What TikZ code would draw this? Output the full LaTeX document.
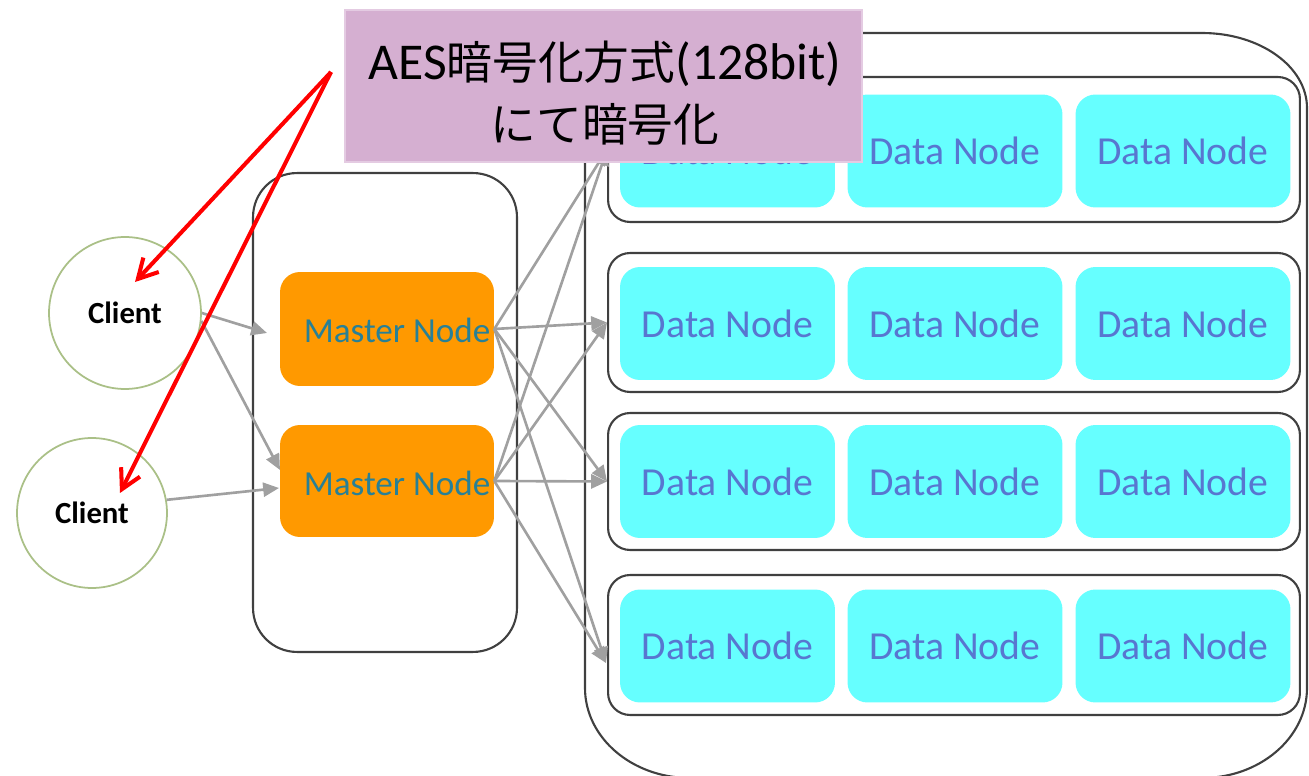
\documentclass[tikz,border=0pt]{standalone}
\usepackage{fontspec}
\setmainfont{Carlito}
\newfontfamily\jpfont[Scale=0.885]{Noto Sans CJK JP}
\usetikzlibrary{arrows.meta,calc}

\definecolor{framegray}{RGB}{64,64,64}
\definecolor{datacyan}{RGB}{102,255,255}
\definecolor{datablue}{RGB}{88,118,208}
\definecolor{masterorange}{RGB}{255,153,0}
\definecolor{masterteal}{RGB}{40,128,150}
\definecolor{clientgreen}{RGB}{170,192,135}
\definecolor{arrowgray}{RGB}{160,160,160}
\definecolor{calloutfill}{RGB}{213,175,209}
\definecolor{calloutedge}{RGB}{228,203,226}
\definecolor{alertred}{RGB}{255,0,0}

\tikzset{
  frame/.style={draw=framegray, line width=1.2pt},
  rowbox/.style={draw=framegray, line width=1.2pt, rounded corners=0.44cm,
    minimum width=13.84cm, inner sep=0pt},
  datanode/.style={fill=datacyan, rounded corners=0.4cm, minimum width=4.3cm,
    minimum height=2.26cm, inner sep=0pt, text=datablue,
    font=\fontsize{22.6}{26}\selectfont},
  masterbox/.style={fill=masterorange, rounded corners=0.4cm, minimum width=4.28cm,
    inner sep=0pt},
  mastertext/.style={text=masterteal, inner sep=0pt, font=\fontsize{20}{24}\selectfont},
  clientnode/.style={circle, draw=clientgreen, line width=1pt, fill=white, inner sep=0pt,
    font=\bfseries\fontsize{17.5}{21}\selectfont},
  garrow/.style={draw=arrowgray, line width=1.5pt, -{Triangle[length=9pt,width=8pt]}},
  rarrow/.style={draw=alertred, line width=2.3pt, -{Straight Barb[length=11pt,width=12pt]}},
  calloutbox/.style={fill=calloutfill, draw=calloutedge, line width=1.6pt,
    minimum width=10.34cm, minimum height=3.04cm, inner sep=0pt},
}

\begin{document}
\begin{tikzpicture}[x=0.02cm, y=-0.02cm]
\useasboundingbox (0,0) rectangle (1309,776);

% cluster frame holding the data node rows
\draw[frame] (585,108) -- (585,688)
  arc[start angle=180, end angle=90, x radius=105, y radius=90] -- (1202,778)
  arc[start angle=90, end angle=0, x radius=105, y radius=90] -- (1307,108)
  arc[start angle=0, end angle=-90, x radius=105, y radius=75] -- (690,33)
  arc[start angle=-90, end angle=-180, x radius=105, y radius=75] -- cycle;

% rows of data nodes
\node[rowbox, minimum height=2.9cm]  (r1) at (954,149.5) {};
\node[rowbox, minimum height=2.78cm] (r2) at (954,322.5) {};
\node[rowbox, minimum height=2.74cm] (r3) at (954,481.5) {};
\node[rowbox, minimum height=2.8cm]  (r4) at (954,645) {};

\foreach \r/\y in {1/151,2/323.5,3/481.5,4/646}{
  \foreach \c/\x in {1/727.5,2/955,3/1183}{
    \node[datanode] (d\r\c) at (\x,\y) {Data Node};
  }
}

% master node group
\node[frame, rounded corners=0.88cm, minimum width=5.28cm, minimum height=9.58cm,
  inner sep=0pt] (mc) at (385,412.5) {};
\node[masterbox, minimum height=2.28cm] (m1) at (387,329) {};
\node[masterbox, minimum height=2.24cm] (m2) at (387,481) {};
\node[mastertext] (mt1) at (397,330) {Master Node};
\node[mastertext] (mt2) at (397,483) {Master Node};

% clients
\node[clientnode, minimum size=3.04cm] (c1) at (125,313) {Client};
\node[clientnode, minimum size=3.0cm]  (c2) at (92,513) {Client};

% request flow
\coordinate (m1in)  at (267,333);
\coordinate (m2in)  at (280,470);
\coordinate (m2inb) at (279,488);
\coordinate (r4in)  at (606,663);
\draw[garrow] (c1.east) -- (m1in);
\draw[garrow] (c1.-6) -- (m2in);
\draw[garrow] (c2.10) -- (m2inb);
\foreach \m in {m1,m2}{
  \draw[garrow] (\m.east) -- (r1.west);
  \draw[garrow] (\m.east) -- (r2.west);
  \draw[garrow] (\m.east) -- (r3.west);
  \draw[garrow] (\m.east) -- (r4in);
}

% encryption note
\node[calloutbox] (callout) at (603.5,86) {};
\node[align=center, inner sep=0pt, font=\fontsize{29.4}{35}\selectfont] (ctext) at (605,93)
  {AES{\jpfont 暗号化方式}(128bit)\\{\jpfont にて暗号化}};

\coordinate (cfrom) at (331,72);
\coordinate (t1) at (135,282);
\coordinate (t2) at (120,493);
\draw[rarrow] (cfrom) -- (t1);
\draw[rarrow] (cfrom) -- (t2);
\end{tikzpicture}
\end{document}
